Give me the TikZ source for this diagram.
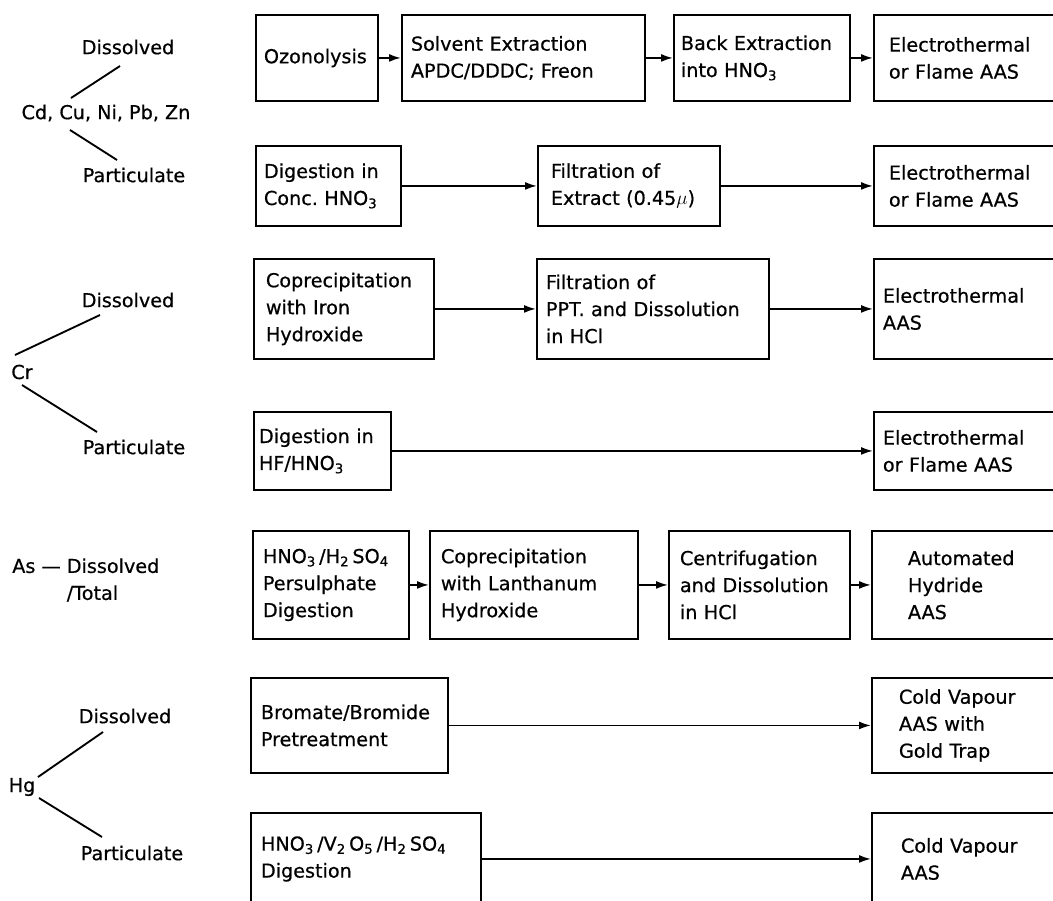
\documentclass[tikz,border=0pt]{standalone}
\usepackage{fontspec}
\setmainfont[FakeBold=0.6,AutoFakeBold=0.6]{DejaVu Sans}
\usetikzlibrary{arrows.meta}
\tikzset{
  stage/.style={draw, line width=1.4pt, anchor=north west, align=left, inner ysep=0pt},
  flow/.style={line width=1.4pt, -{Latex[length=9pt,width=6pt]}},
  branch/.style={line width=1.4pt},
  tag/.style={inner sep=0pt}
}
\begin{document}
\begin{tikzpicture}[x=0.75pt, y=-0.75pt, font=\fontsize{14.4pt}{20.25pt}\selectfont\bfseries]
    \useasboundingbox (0,0) rectangle (1053,900);
    \clip (0,0) rectangle (1053,900);

    % left hand labels
    \node[tag] (d1) at (128,47) {Dissolved};
    \node[tag] (cdz) at (106,113) {Cd, Cu, Ni, Pb, Zn};
    \node[tag] (p1) at (134,175) {Particulate};
    \node[tag] (d2) at (128,300) {Dissolved};
    \node[tag] (cr) at (22,372) {Cr};
    \node[tag] (p2) at (134,447) {Particulate};
    \node[tag, anchor=west, align=left] (as) at (12,580) {As --- Dissolved\\\phantom{As --- }/Total};
    \node[tag] (d3) at (125,716) {Dissolved};
    \node[tag] (hg) at (22,787) {Hg};
    \node[tag] (p3) at (132,853) {Particulate};

    \draw[branch] ([shift={(-35,-15)}]cdz.center) -- ([shift={(-8,19)}]d1.center);
    \draw[branch] ([shift={(-36,17)}]cdz.center) -- ([shift={(-17,-15)}]p1.center);
    \draw[branch] ([shift={(-7,-17)}]cr.center) -- ([shift={(-28,15)}]d2.center);
    \draw[branch] ([shift={(0,13)}]cr.center) -- ([shift={(-37,-15)}]p2.center);
    \draw[branch] ([shift={(16,-10)}]hg.center) -- ([shift={(-22,16)}]d3.center);
    \draw[branch] ([shift={(17,11)}]hg.center) -- ([shift={(-30,-16)}]p3.center);

    % Cd, Cu, Ni, Pb, Zn
    \node[stage, inner xsep=6pt, text width=79.5pt, minimum height=64.5pt] (oz) at (255,14) {Ozonolysis};
    \node[stage, inner xsep=6.75pt, text width=168.75pt, minimum height=64.5pt] (solv) at (401,14) {Solvent Extraction\\APDC/DDDC; Freon};
    \node[stage, inner xsep=5.25pt, text width=121.5pt, minimum height=64.5pt] (back) at (673,14) {Back Extraction\\into HNO\textsubscript{3}};
    \node[stage, inner xsep=11.25pt, text width=150pt, minimum height=64.5pt] (el1) at (873,14) {Electrothermal\\or Flame AAS};

    \node[stage, inner xsep=6pt, text width=96.75pt, minimum height=60pt] (dig1) at (255,145) {Digestion in\\Conc.~HNO\textsubscript{3}};
    \node[stage, inner xsep=9.75pt, text width=117pt, minimum height=60pt] (filt1) at (537,145) {Filtration of\\Extract~(0.45$\mu$)};
    \node[stage, inner xsep=11.25pt, text width=150pt, minimum height=60pt] (el2) at (873,145) {Electrothermal\\or Flame AAS};

    % Cr
    \node[stage, inner xsep=9pt, text width=117pt, minimum height=75pt] (cop1) at (253,258) {Coprecipitation\\with Iron\\Hydroxide};
    \node[stage, inner xsep=6.75pt, text width=160.5pt, minimum height=75pt] (filt2) at (536,258) {Filtration of\\PPT. and Dissolution\\in HCl};
    \node[stage, inner xsep=6.75pt, text width=159pt, minimum height=75pt] (el3) at (873,258) {Electrothermal\\AAS};

    \node[stage, inner xsep=3.75pt, text width=95.25pt, minimum height=58.5pt] (dig2) at (253,411) {Digestion in\\HF/HNO\textsubscript{3}};
    \node[stage, inner xsep=6.75pt, text width=159pt, minimum height=58.5pt] (el4) at (873,411) {Electrothermal\\or Flame AAS};

    % As
    \node[stage, inner xsep=7.5pt, text width=102pt, minimum height=81pt] (as1) at (252,530) {HNO\textsubscript{3}\,/H\textsubscript{2}\,SO\textsubscript{4}\\Persulphate\\Digestion};
    \node[stage, inner xsep=8.25pt, text width=139.5pt, minimum height=81pt] (as2) at (429,530) {Coprecipitation\\with Lanthanum\\Hydroxide};
    \node[stage, inner xsep=8.25pt, text width=119.25pt, minimum height=81pt] (as3) at (668,530) {Centrifugation\\and Dissolution\\in HCl};
    \node[stage, inner xsep=27pt, text width=150pt, minimum height=81pt] (as4) at (871,530) {Automated\\Hydride\\AAS};

    % Hg
    \node[stage, inner xsep=7.5pt, text width=132.75pt, minimum height=71.25pt] (hg1) at (250,677) {Bromate/Bromide\\Pretreatment};
    \node[stage, inner xsep=20.25pt, text width=150pt, minimum height=71.25pt] (hg2) at (871,677) {Cold Vapour\\AAS with\\Gold Trap};

    \node[stage, inner xsep=7.5pt, text width=157.5pt, minimum height=69pt] (hg3) at (250,812) {HNO\textsubscript{3}\,/V\textsubscript{2}\,O\textsubscript{5}\,/H\textsubscript{2}\,SO\textsubscript{4}\\Digestion};
    \node[stage, inner xsep=21.75pt, text width=150pt, minimum height=69pt] (hg4) at (871,812) {Cold Vapour\\AAS};

    \draw[flow] (oz) -- (solv);
    \draw[flow] (solv) -- (back);
    \draw[flow] (back) -- (el1);
    \draw[flow] (dig1) -- (filt1);
    \draw[flow] (filt1) -- (el2);
    \draw[flow] (cop1) -- (filt2);
    \draw[flow] (filt2) -- (el3);
    \draw[flow] (dig2) -- (el4);
    \draw[flow] (as1) -- (as2);
    \draw[flow] (as2) -- (as3);
    \draw[flow] (as3) -- (as4);
    \draw[flow] (hg1) -- (hg2);
    \draw[flow] (hg3) -- (hg4);
\end{tikzpicture}
\end{document}
